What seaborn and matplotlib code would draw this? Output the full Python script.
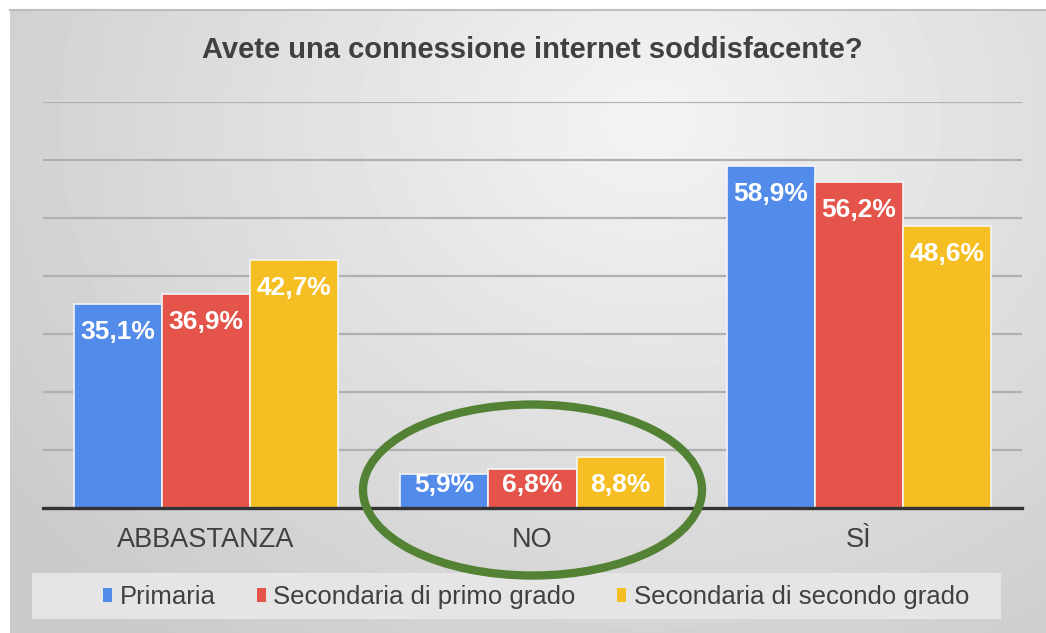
import numpy as np
import pandas as pd
import matplotlib
matplotlib.use("Agg")
import matplotlib.pyplot as plt
from matplotlib.patches import Ellipse, Rectangle, Patch
import seaborn as sns

# ─── Data ─────────────────────────────────────────────────────────────────────
categories = ["ABBASTANZA", "NO", "SÌ"]
series = ["Primaria", "Secondaria di primo grado", "Secondaria di secondo grado"]
primaria = [35.1, 5.9, 58.9]
primo_grado = [36.9, 6.8, 56.2]
secondo_grado = [42.7, 8.8, 48.6]
title = "Avete una connessione internet soddisfacente?"

# ─── Style ────────────────────────────────────────────────────────────────────
COLORS = ["#528BEA", "#E4544A", "#F5BE22"]
TEXT = "#404040"
W, H = 1046, 633

sns.set_theme(style="white")
plt.rcParams["font.family"] = ["Liberation Sans", "DejaVu Sans"]

df = pd.DataFrame({
    "risposta": categories * 3,
    "scuola": [s for s in series for _ in categories],
    "valore": primaria + primo_grado + secondo_grado,
})

fig = plt.figure(figsize=(W / 100, H / 100), dpi=100)
fig.patch.set_facecolor("white")

# background panel: soft grey radial gradient
bg = fig.add_axes([10 / W, 0, 1 - 10 / W, 1 - 10 / H], zorder=0)
yy, xx = np.mgrid[0:623, 0:1036]
d = np.sqrt(((xx - 640) / 720) ** 2 + ((yy - 110) / 620) ** 2)
shade = np.clip(0.955 - 0.15 * d, 0.79, 0.955)
bg.imshow(shade, cmap="gray", vmin=0, vmax=1, aspect="auto", interpolation="bilinear")
bg.set_xticks([]); bg.set_yticks([])
for side, sp in bg.spines.items():
    sp.set_visible(side == "top")
bg.spines["top"].set_color("#BDBDBD")
bg.spines["top"].set_linewidth(1.5)

# legend backing box
fig.add_artist(Rectangle((32 / W, 1 - 619 / H), (1001 - 32) / W, 46 / H,
                         transform=fig.transFigure, facecolor="#E5E5E5",
                         edgecolor="none", zorder=0.5))

# ─── Bars ─────────────────────────────────────────────────────────────────────
ax = fig.add_axes([43 / W, 1 - 508 / H, (1022 - 43) / W, (508 - 102) / H], zorder=1)
ax.set_facecolor("none")
sns.barplot(data=df, x="risposta", y="valore", hue="scuola", order=categories,
            hue_order=series, palette=COLORS, width=0.81, saturation=1,
            edgecolor="#F4F4F4", linewidth=1.2, legend=False, ax=ax)

ax.set_xlim(-0.5, 2.5)
ax.set_ylim(0, 70)
ax.set_yticks(range(10, 71, 10))
ax.set_yticklabels([])
ax.grid(axis="y", color="#B0B0B0", lw=1.6)
ax.set_axisbelow(True)
for side in ["top", "right", "left"]:
    ax.spines[side].set_visible(False)
ax.spines["bottom"].set_color("#333333")
ax.spines["bottom"].set_linewidth(2.4)
ax.tick_params(axis="x", length=0, pad=14, labelsize=19.5, labelcolor=TEXT)
ax.tick_params(axis="y", length=0)
ax.set_xlabel("")
ax.set_ylabel("")

# value labels inside bar tops
off = 28 / ((508 - 102) / 70)
for cont in ax.containers:
    for bar in cont:
        v = bar.get_height()
        y = max(v - off, 4.0)
        ax.text(bar.get_x() + bar.get_width() / 2, y, f"{v:.1f}%".replace(".", ","),
                ha="center", va="center", color="white", fontsize=19, fontweight="bold")

# green ellipse highlighting the NO group
ax.add_patch(Ellipse((1, 3.1), width=339 / 326.3, height=171 / 5.8, fill=False,
                     edgecolor="#548235", lw=6, clip_on=False, zorder=5))

# ─── Title & legend ───────────────────────────────────────────────────────────
fig.text(532 / W, 1 - 50 / H, title, ha="center", va="center", fontsize=21,
         fontweight="bold", color=TEXT)

handles = [Patch(facecolor=c, edgecolor="none") for c in COLORS]
fig.legend(handles, series, loc="center", bbox_to_anchor=(536 / W, 1 - 597 / H),
           ncol=3, frameon=False, fontsize=18.5, handlelength=0.35, handleheight=0.5,
           handletextpad=0.3, columnspacing=1.6, labelcolor=TEXT)

fig.savefig("out.png", dpi=100)
